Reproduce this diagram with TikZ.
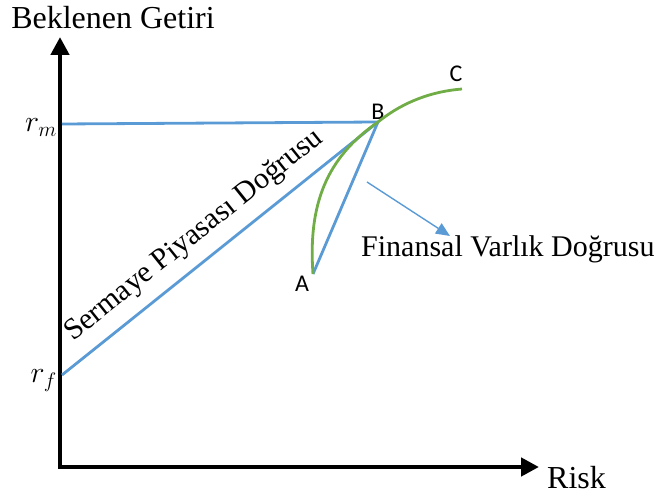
\documentclass[tikz,border=0pt]{standalone}
\usepackage{fix-cm}
\usepackage{fontspec}
\setmainfont{Liberation Serif}
\newfontfamily\ptfont{Carlito}
\usetikzlibrary{arrows.meta, positioning, calc}
\definecolor{linblue}{RGB}{91,155,213}
\definecolor{frontgreen}{RGB}{112,173,71}
\tikzset{
  axis/.style={line width=4.5pt, {Triangle[length=18pt,width=18pt]}-{Triangle[length=18pt,width=18pt]}},
  line/.style={linblue, line width=2.8pt},
  front/.style={frontgreen, line width=2.8pt},
  ptr/.style={linblue, line width=1.4pt, -{Triangle[length=14pt,width=12pt]}},
  ttl/.style={font=\fontsize{30}{34}\selectfont, inner sep=0pt, text=black},
  pt/.style={font=\ptfont\fontsize{24}{28}\selectfont, inner sep=0pt}
}

\begin{document}
\begin{tikzpicture}[x=1pt, y=-1pt]
  \useasboundingbox (0,0) rectangle (654,497);
  % axes
  \coordinate (O) at (60,467);
  \coordinate (ytip) at (60,37);
  \coordinate (xtip) at (539,467);
  \draw[axis] (ytip) -- (O) -- (xtip);
  \node[ttl, font=\fontsize{32}{36}\selectfont] (ylbl) at (113,18) {Beklenen Getiri};
  \node[ttl, font=\fontsize{32}{36}\selectfont, anchor=base west] (xlbl) at (547,488) {Risk};
  % points
  \coordinate (rm) at (62,124);
  \coordinate (rf) at (62,375);
  \coordinate (B) at (378,122);
  \coordinate (A) at (313,274);
  \coordinate (C) at (462,89);
  \node[ttl, anchor=base east] (rmlbl) at ($(rm)+(-5,8)$) {$r_m$};
  \node[ttl, anchor=base east] (rflbl) at ($(rf)+(-5,8)$) {$r_f$};
  \node[pt, above=2pt of B] (Blbl) {B};
  \node[pt] (Albl) at ($(A)+(-11,10)$) {A};
  \node[pt] (Clbl) at ($(C)+(-6,-15)$) {C};
  % lines
  \draw[line] (rm) -- (B);
  \draw[line] (rf) -- (B) node[ttl, pos=.47, sloped, above=11pt] {Sermaye Piyasası Doğrusu};
  \draw[line] (A) -- (B);
  \draw[front] (A) .. controls (308,205) and (326,158) .. (B);
  \draw[front] (B) .. controls (398,106) and (425,92) .. (C);
  % label arrow
  \node[ttl, anchor=base west] (fvlbl) at (361,257) {Finansal Varlık Doğrusu};
  \coordinate (fstart) at (367,182);
  \coordinate (ftip) at (450,236);
  \draw[ptr] (fstart) -- (ftip);
\end{tikzpicture}
\end{document}
